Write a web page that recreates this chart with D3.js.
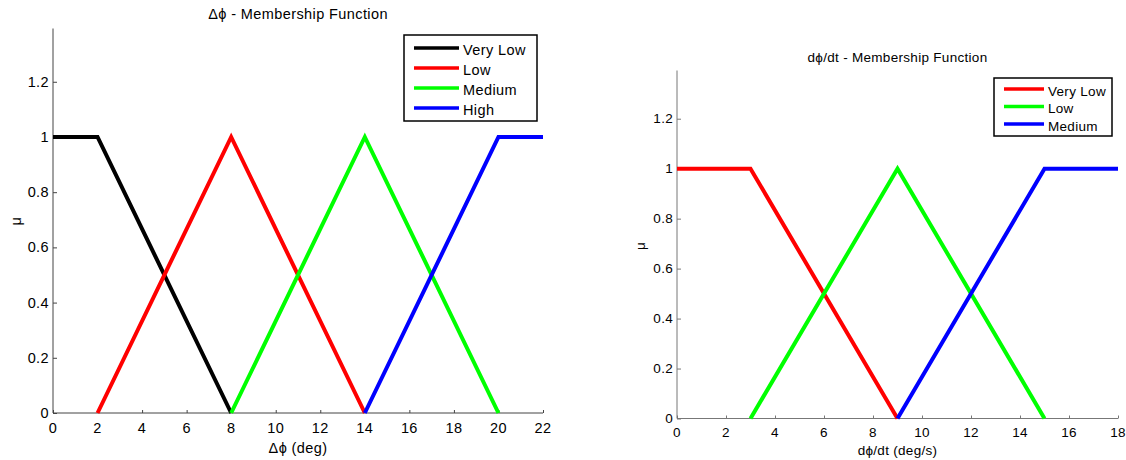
<!DOCTYPE html>
<html>
<head>
<meta charset="utf-8">
<script src="https://cdn.jsdelivr.net/npm/d3@7"></script>
<style>
  body { margin: 0; background: #fff; }
  svg { display: block; font-family: "Liberation Sans", Arial, sans-serif; }
</style>
</head>
<body>
<svg id="chart" width="1126" height="460"></svg>
<script>
// left plot: angle error membership functions
const angleLabels = ['Very Low', 'Low', 'Medium', 'High'];
const angleColors = ['#000000', '#ff0000', '#00ff00', '#0000ff'];
const angleSeries = [
    [[0, 1], [2, 1], [8, 0]],
    [[2, 0], [8, 1], [14, 0]],
    [[8, 0], [14, 1], [20, 0]],
    [[14, 0], [20, 1], [22, 1]],
];
const angleXTicks = [0, 2, 4, 6, 8, 10, 12, 14, 16, 18, 20, 22];

// right plot: angle rate membership functions
const rateLabels = ['Very Low', 'Low', 'Medium'];
const rateColors = ['#ff0000', '#00ff00', '#0000ff'];
const rateSeries = [
    [[0, 1], [3, 1], [9, 0]],
    [[3, 0], [9, 1], [15, 0]],
    [[9, 0], [15, 1], [18, 1]],
];
const rateXTicks = [0, 2, 4, 6, 8, 10, 12, 14, 16, 18];

const yTicks = [0, 0.2, 0.4, 0.6, 0.8, 1, 1.2];

class MemberPlot {

    constructor(config, series) {
        this.config = config;
        this.series = series;
        this.init();
        this.render();
    }

    init() {
        let self = this;
        let c = self.config;

        self.g = d3.select('#chart').append('g')
            .attr('letter-spacing', c.spacing);

        self.xscale = d3.scaleLinear()
            .domain(c.xdomain)
            .range([c.left, c.right]);

        self.yscale = d3.scaleLinear()
            .domain([0, 1.393])
            .range([c.bottom, c.top]);
    }

    render() {
        let self = this;
        let c = self.config;
        let fs = c.fontSize;

        // axes: ticks pointing inward like matlab
        let xaxis = d3.axisTop(self.xscale)
            .tickValues(c.xticks)
            .tickSize(3)
            .tickSizeOuter(0)
            .tickFormat('');
        let xg = self.g.append('g')
            .attr('transform', `translate(0, ${c.bottom})`)
            .call(xaxis);
        xg.select('.domain').remove();
        xg.selectAll('line').attr('stroke', c.axisColor);

        self.g.append('g').selectAll('text')
            .data(c.xticks).enter()
            .append('text')
            .attr('x', d => self.xscale(d))
            .attr('y', c.bottom + c.tickLabelDy)
            .attr('text-anchor', 'middle')
            .attr('font-size', fs + 'px')
            .text(d => d);

        let yaxis = d3.axisRight(self.yscale)
            .tickValues(yTicks)
            .tickSize(4)
            .tickSizeOuter(0)
            .tickFormat('');
        let yg = self.g.append('g')
            .attr('transform', `translate(${c.left}, 0)`)
            .call(yaxis);
        yg.select('.domain').remove();
        yg.selectAll('line').attr('stroke', c.axisColor);

        self.g.append('g').selectAll('text')
            .data(yTicks).enter()
            .append('text')
            .attr('x', c.left - 4)
            .attr('y', d => self.yscale(d))
            .attr('dy', '0.35em')
            .attr('text-anchor', 'end')
            .attr('font-size', fs + 'px')
            .text(d => d);

        // axis lines
        self.g.append('line')
            .attr('x1', c.left).attr('x2', c.left)
            .attr('y1', c.top).attr('y2', c.bottom)
            .attr('stroke', c.axisColor);
        self.g.append('line')
            .attr('x1', c.left).attr('x2', c.right)
            .attr('y1', c.bottom).attr('y2', c.bottom)
            .attr('stroke', c.axisColor);

        let line = d3.line()
            .x(d => self.xscale(d[0]))
            .y(d => self.yscale(d[1]));

        self.g.append('g').selectAll('path')
            .data(self.series).enter()
            .append('path')
            .attr('d', line)
            .attr('fill', 'none')
            .attr('stroke', (d, i) => c.colors[i])
            .attr('stroke-width', 4)
            .attr('stroke-linejoin', 'miter');

        // title and labels
        let mid = (c.left + c.right) / 2;
        self.g.append('text')
            .attr('x', mid)
            .attr('y', c.titleY)
            .attr('text-anchor', 'middle')
            .attr('font-size', fs + 'px')
            .text(c.title);

        self.g.append('text')
            .attr('x', mid)
            .attr('y', c.xlabelY)
            .attr('text-anchor', 'middle')
            .attr('font-size', fs + 'px')
            .text(c.xlabel);

        self.g.append('text')
            .attr('transform', `translate(${c.ylabelX}, ${c.ylabelY}) rotate(-90)`)
            .attr('text-anchor', 'middle')
            .attr('font-size', fs + 'px')
            .text('μ');

        // legend
        let lg = c.legend;
        let legend = self.g.append('g');
        legend.append('rect')
            .attr('x', lg.x).attr('y', lg.y)
            .attr('width', lg.w).attr('height', lg.h)
            .attr('fill', '#fff')
            .attr('stroke', '#000')
            .attr('stroke-width', 1.5);
        let rows = legend.selectAll('g.row')
            .data(c.labels).enter()
            .append('g')
            .attr('transform', (d, i) => `translate(${lg.x}, ${lg.y + lg.first + i * lg.step})`);
        rows.append('line')
            .attr('x1', 10).attr('x2', 10 + lg.sample)
            .attr('stroke', (d, i) => c.colors[i])
            .attr('stroke-width', 3.5);
        rows.append('text')
            .attr('x', 14 + lg.sample)
            .attr('y', 2)
            .attr('dy', '0.35em')
            .attr('font-size', fs + 'px')
            .text(d => d);
    }
}

new MemberPlot({
    xdomain: [0, 22], xticks: angleXTicks,
    left: 53, right: 543, top: 28.5, bottom: 413,
    axisColor: '#444', fontSize: 14.5, spacing: 0.4, tickLabelDy: 20,
    colors: angleColors, labels: angleLabels,
    title: 'Δϕ - Membership Function', titleY: 19,
    xlabel: 'Δϕ (deg)', xlabelY: 453, ylabelX: 21, ylabelY: 221,
    legend: { x: 404, y: 35, w: 133, h: 86, first: 13, step: 20, sample: 45 },
}, angleSeries);

new MemberPlot({
    xdomain: [0, 18], xticks: rateXTicks,
    left: 677, right: 1118, top: 70.5, bottom: 418.5,
    axisColor: '#777', fontSize: 13.5, spacing: 0.3, tickLabelDy: 18.5,
    colors: rateColors, labels: rateLabels,
    title: 'dϕ/dt - Membership Function', titleY: 62,
    xlabel: 'dϕ/dt (deg/s)', xlabelY: 455, ylabelX: 645, ylabelY: 246,
    legend: { x: 994, y: 78, w: 118, h: 58, first: 11, step: 17.5, sample: 40 },
}, rateSeries);
</script>
</body>
</html>
